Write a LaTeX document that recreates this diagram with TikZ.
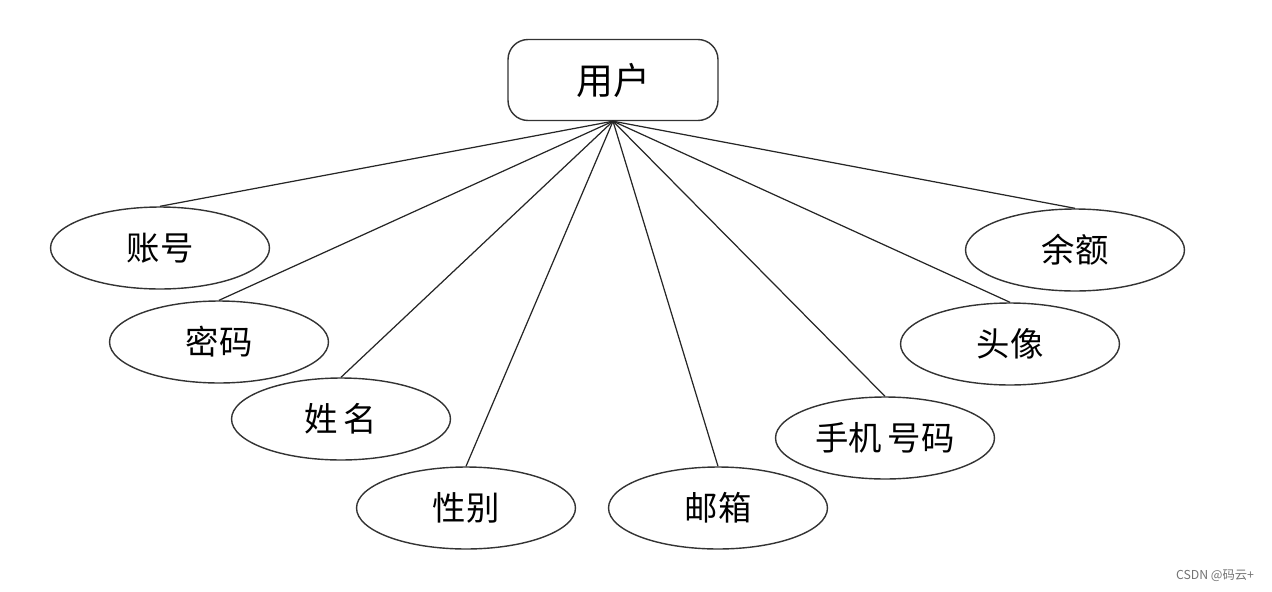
\documentclass[tikz,border=0pt]{standalone}
\usepackage{fontspec}
\setmainfont{Noto Sans CJK SC}
\usepackage{tikz}
\usetikzlibrary{shapes.geometric, positioning}

\begin{document}
\begin{tikzpicture}[
    x=0.02cm, y=-0.02cm,
    entity/.style={rectangle, rounded corners=0.4cm, draw=black!80, line width=0.8pt,
                   minimum width=4.2cm, minimum height=1.62cm, inner sep=0pt,
                   font=\fontsize{21}{24}\selectfont},
    attr/.style={ellipse, draw=black!80, line width=0.8pt,
                 minimum width=4.38cm, minimum height=1.64cm, inner sep=0pt,
                 font=\fontsize{19}{22}\selectfont},
    link/.style={draw=black!85, line width=0.7pt},
    wmark/.style={font=\fontsize{7}{8}\selectfont, text=black!55}
]
\useasboundingbox (0,0) rectangle (1272,592);

% Entity
\node[entity] (user) at (613,80) {用户};

% Attributes, left side
\node[attr] (acct)   at (160,248) {账号};
\node[attr] (pwd)    at (219,342) {密码};
\node[attr] (name)   at (341,419) {姓\,名};
\node[attr] (gender) at (466,508) {性别};

% Attributes, right side
\node[attr] (email)   at (718,508)  {邮箱};
\node[attr] (phone)   at (885,438)  {手机\,号码};
\node[attr] (avatar)  at (1010,344) {头像};
\node[attr] (balance) at (1075,250) {余额};

% Links entity -> attributes
\draw[link] (user.south) -- (acct.north);
\draw[link] (user.south) -- (pwd.north);
\draw[link] (user.south) -- (name.north);
\draw[link] (user.south) -- (gender.north);
\draw[link] (user.south) -- (email.north);
\draw[link] (user.south) -- (phone.north);
\draw[link] (user.south) -- (avatar.north);
\draw[link] (user.south) -- (balance.north);

% Watermark
\node[wmark] (wm) at (1215,576) {CSDN @码云+};

\end{tikzpicture}
\end{document}
